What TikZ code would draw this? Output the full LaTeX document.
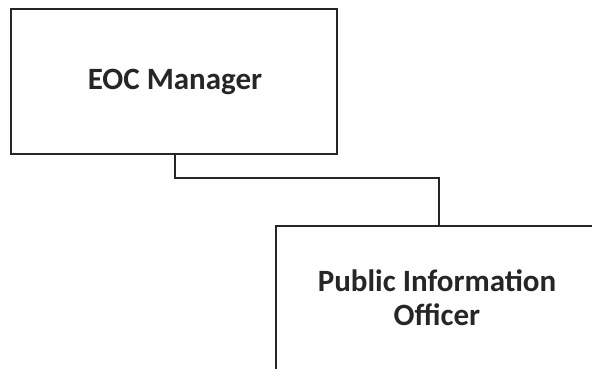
\documentclass[tikz,border=0pt]{standalone}
\usepackage{fontspec}
\setmainfont{Carlito}
\begin{document}
\begin{tikzpicture}[x=1pt,y=-1pt,
  box/.style={draw=black!85, line width=1.6pt},
  label/.style={font=\bfseries, text=black!85, align=center},
  link/.style={draw=black!85, line width=1.6pt}]
\useasboundingbox (0,0) rectangle (592,369);
\begin{scope}
\clip (0,0) rectangle (592,369);
% EOC Manager box
\draw[box] (11,9) rectangle (337,154);
\node[label, font=\bfseries\fontsize{31}{36}\selectfont] (mgr) at (175,82) {EOC Manager};
% Public Information Officer box (runs past the right and bottom edges)
\draw[box] (276,380) -- (276,226) -- (605,226);
\node[label, font=\bfseries\fontsize{31}{34}\selectfont] (pio) at (437,298) {Public Information\\Officer};
% connector between the two boxes
\coordinate (c1) at (175,154);
\coordinate (c2) at (439,226);
\draw[link] (c1) |- (439,178) -- (c2);
\end{scope}
\end{tikzpicture}
\end{document}
